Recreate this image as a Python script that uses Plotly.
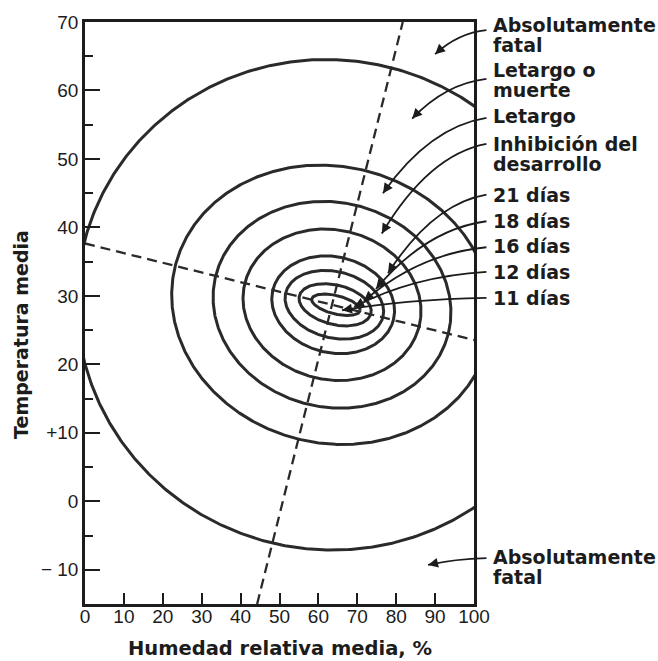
import numpy as np
import plotly.graph_objects as go

# Axis extents
HUM_RANGE = [0, 100]
TEMP_RANGE = [-15, 70]

# Optimum point (mean relative humidity %, mean temperature) and the two
# conjugate axes of the zone ellipses
center_hum = 63.5
center_temp = 28.7
axis1_slope = -0.141   # temperature change per % humidity along the "horizontal" axis
axis2_lean = 0.4405    # humidity change per degree along the "vertical" axis

# Each zone boundary, outermost first: centre humidity and semi-axes
ring_center_hum = [62.8, 63.4, 63.5, 63.5, 63.8, 64.1, 64.3, 64.5]
semi_hum = [63.1, 40.2, 29.9, 22.4, 15.5, 12.5, 9.2, 6.2]
semi_temp = [34.7, 19.6, 14.5, 10.6, 6.8, 4.7, 2.8, 1.3]

# Zone labels (text, temperature of the text line) and the point each arrow marks
label_lines = [
    ("Absolutamente", 69.6), ("fatal", 66.7),
    ("Letargo o", 63.0), ("muerte", 60.1),
    ("Letargo", 56.2),
    ("Inhibición del", 52.2), ("desarrollo", 49.2),
    ("21 días", 44.8), ("18 días", 41.0), ("16 días", 37.3),
    ("12 días", 33.5), ("11 días", 29.7),
    ("Absolutamente", -8.2), ("fatal", -11.1),
]
arrow_start_temp = [68.8, 61.7, 56.0, 52.2, 44.8, 40.9, 37.1, 33.5, 29.7, -8.3]
arrow_end_hum = [90.0, 84.1, 76.6, 76.3, 77.9, 74.8, 71.7, 69.2, 66.1, 88.2]
arrow_end_temp = [65.3, 55.9, 45.0, 39.1, 33.3, 31.0, 29.25, 28.4, 27.9, -9.3]

INK = "#1c1c1c"
CURVE = "#2a2a2a"
W, H = 658, 661
M = dict(l=85, r=184, t=20, b=57)
PW = W - M["l"] - M["r"]
PH = H - M["t"] - M["b"]


def to_paper(h, t):
    return ((h - HUM_RANGE[0]) / (HUM_RANGE[1] - HUM_RANGE[0]),
            (t - TEMP_RANGE[0]) / (TEMP_RANGE[1] - TEMP_RANGE[0]))


fig = go.Figure()

# Zone boundaries
theta = np.linspace(0, 2 * np.pi, 721)
for ch, a, b in zip(ring_center_hum, semi_hum, semi_temp):
    xs = ch + a * np.cos(theta) + b * axis2_lean * np.sin(theta)
    ys = center_temp + a * axis1_slope * np.cos(theta) + b * np.sin(theta)
    fig.add_trace(go.Scatter(x=xs, y=ys, mode="lines",
                             line=dict(color=CURVE, width=3),
                             hoverinfo="skip", showlegend=False))

# Dashed axes through the optimum
h1 = np.array(HUM_RANGE, dtype=float)
t1 = center_temp + axis1_slope * (h1 - center_hum)
fig.add_trace(go.Scatter(x=h1, y=t1, mode="lines",
                         line=dict(color=CURVE, width=2.3, dash="10px,6px"),
                         hoverinfo="skip", showlegend=False))
t2 = np.array(TEMP_RANGE, dtype=float)
h2 = center_hum + axis2_lean * (t2 - center_temp)
fig.add_trace(go.Scatter(x=h2, y=t2, mode="lines",
                         line=dict(color=CURVE, width=2.3, dash="10px,6px"),
                         hoverinfo="skip", showlegend=False))

annotations = []
shapes = []

# Zone labels on the right
label_x = to_paper(104.4, 0)[0]
for text, t in label_lines:
    annotations.append(dict(
        x=label_x, y=to_paper(0, t)[1], xref="paper", yref="paper",
        text=text, showarrow=False, xanchor="left", yanchor="middle",
        font=dict(family="DejaVu Sans", size=19, color=INK, weight="bold")))

# Curved leader arrows
start_hum = 103.2
for ts, he, te in zip(arrow_start_temp, arrow_end_hum, arrow_end_temp):
    x0, y0 = to_paper(start_hum, ts)
    x1, y1 = to_paper(he, te)
    cx = x0 + 0.55 * (x1 - x0)
    cy = y0 + 0.12 * (y1 - y0)
    shapes.append(dict(type="path", xref="paper", yref="paper",
                       path=f"M {x0},{y0} Q {cx},{cy} {x1},{y1}",
                       line=dict(color=INK, width=1.8)))
    dxp = (cx - x1) * PW
    dyp = -(cy - y1) * PH
    n = np.hypot(dxp, dyp)
    annotations.append(dict(
        x=x1, y=y1, xref="paper", yref="paper", text="",
        showarrow=True, ax=10 * dxp / n, ay=10 * dyp / n,
        arrowhead=2, arrowsize=1.1, arrowwidth=1.8, arrowcolor=INK,
        standoff=0, startstandoff=0))

# Axis titles
annotations.append(dict(
    x=0.5, y=-(649 - (H - M["b"])) / PH, xref="paper", yref="paper",
    text="Humedad relativa media, %", showarrow=False,
    xanchor="center", yanchor="middle",
    font=dict(family="DejaVu Sans", size=19.5, color=INK, weight="bold")))
annotations.append(dict(
    x=-(M["l"] - 21) / PW, y=((H - M["b"]) - 334) / PH, xref="paper", yref="paper",
    text="Temperatura media", showarrow=False, textangle=-90,
    xanchor="center", yanchor="middle",
    font=dict(family="DejaVu Sans", size=19, color=INK, weight="bold")))

hum_ticks = list(range(0, 101, 10))
temp_ticks = [70, 60, 50, 40, 30, 20, 10, 0, -10]
temp_tick_text = ["70", "60", "50", "40", "30", "20", "+10", "0", "\u2212 10"]

fig.update_layout(
    width=W, height=H, margin=M,
    paper_bgcolor="white", plot_bgcolor="white",
    showlegend=False,
    annotations=annotations, shapes=shapes,
    xaxis=dict(range=HUM_RANGE, tickvals=hum_ticks,
               ticktext=[str(v) for v in hum_ticks],
               ticks="inside", ticklen=11, tickwidth=2, tickcolor=INK,
               ticklabelstandoff=-7,
               showline=True, linewidth=2.5, linecolor=INK, mirror=True,
               showgrid=False, zeroline=False,
               tickfont=dict(family="Liberation Sans", size=19, color=INK)),
    yaxis=dict(range=TEMP_RANGE, tickvals=temp_ticks, ticktext=temp_tick_text,
               ticks="inside", ticklen=15, tickwidth=2, tickcolor=INK,
               minor=dict(dtick=5, tick0=0, ticks="inside", ticklen=8,
                          tickwidth=2, tickcolor=INK),
               showline=True, linewidth=2.5, linecolor=INK, mirror=True,
               showgrid=False, zeroline=False,
               tickfont=dict(family="Liberation Sans", size=19, color=INK)),
)

fig.write_html("out.html")
